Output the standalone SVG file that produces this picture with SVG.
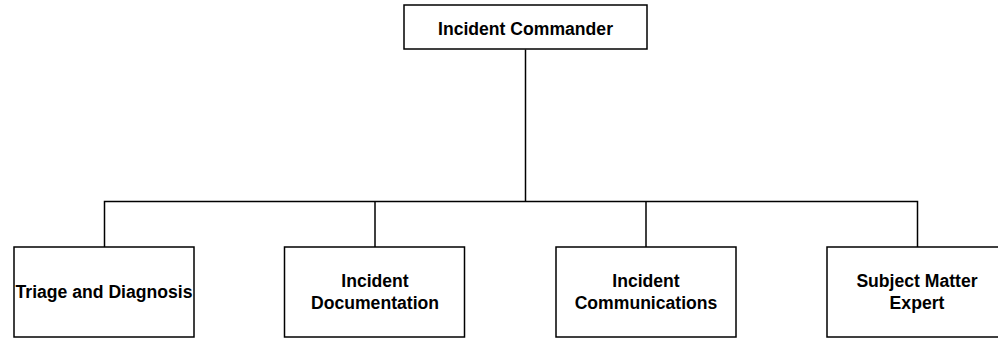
<svg xmlns="http://www.w3.org/2000/svg" width="998" height="339" viewBox="0 0 998 339">
<style>
.box{fill:#fff;stroke:#000;stroke-width:1.5}
.lbl{font-family:"Liberation Sans",Arial,sans-serif;font-weight:bold;font-size:17.6px;fill:#000;text-anchor:middle}
.conn{fill:none;stroke:#000;stroke-width:1.5}
</style>
<rect width="998" height="339" fill="#fff"/>
<g id="connectors">
<path class="conn" d="M525.5 49.5V201.5"/>
<path class="conn" d="M104.5 247V201.5H917.5V247"/>
<path class="conn" d="M375 201.5V247"/>
<path class="conn" d="M646 201.5V247"/>
</g>
<g id="incident-commander">
<rect class="box" x="404" y="5" width="243" height="44"/>
<text class="lbl" x="525.5" y="35">Incident Commander</text>
</g>
<g id="triage">
<rect class="box" x="14" y="247" width="180" height="90"/>
<text class="lbl" x="104" y="298">Triage and Diagnosis</text>
</g>
<g id="documentation">
<rect class="box" x="284.5" y="247" width="180" height="90"/>
<text class="lbl" x="375" y="287">Incident</text>
<text class="lbl" x="375" y="309">Documentation</text>
</g>
<g id="communications">
<rect class="box" x="556" y="247" width="180" height="90"/>
<text class="lbl" x="646" y="287">Incident</text>
<text class="lbl" x="646" y="309">Communications</text>
</g>
<g id="sme">
<rect class="box" x="827" y="247" width="180" height="90"/>
<text class="lbl" x="917" y="287">Subject Matter</text>
<text class="lbl" x="917" y="309">Expert</text>
</g>
</svg>
